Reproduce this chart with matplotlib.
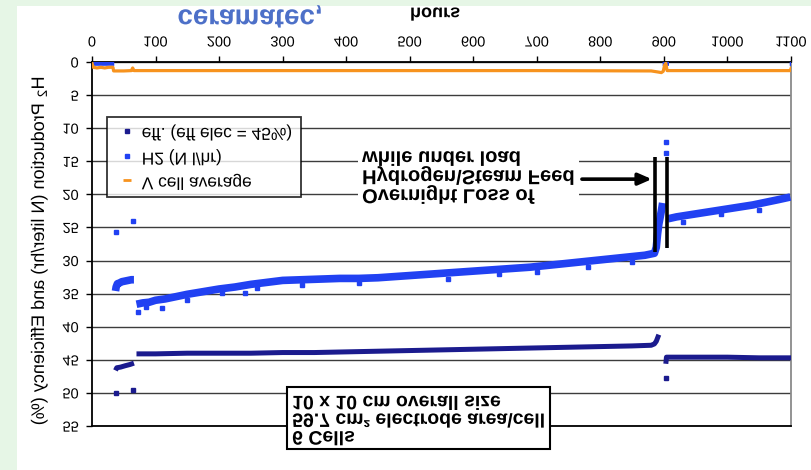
import numpy as np
import matplotlib
matplotlib.use("Agg")
import matplotlib.pyplot as plt
from matplotlib.patheffects import AbstractPathEffect
from matplotlib.transforms import Affine2D
from matplotlib.lines import Line2D
from matplotlib.patches import Rectangle

plt.rcParams['font.family'] = ['Liberation Sans', 'DejaVu Sans']

nan = np.nan

# ---------------- data ----------------
hour_ticks = list(range(0, 1101, 100))
value_ticks = list(range(0, 56, 5))

# H2 production (N l/hr) - main band, NaN separates runs
h2_hours = [0, 35, nan,
            37, 38, 40, 43, 47, 52, 57, 62, 66, nan,
            70, 80, 90, 100, 115, 130, 150, 175, 200, 225, 250, 275, 300,
            330, 360, 390, 420, 450, 480, 510, 540, 570, 600, 630, 660, 690,
            720, 750, 780, 810, 840, 870, 885, 888, 890, 892, 894, 896, 898, nan,
            898, 908, nan,
            906, 920, 940, 960, 980, 1000, 1020, 1040, 1060, 1080, 1099, nan,
            1098, 1100]
h2_values = [0, 0, nan,
             34.6, 34.0, 33.5, 33.4, 33.2, 33.1, 33.0, 32.9, 32.9, nan,
             36.6, 36.4, 36.3, 36.0, 35.8, 35.5, 35.1, 34.7, 34.3, 34.0, 33.6, 33.3, 33.0,
             32.9, 32.8, 32.7, 32.7, 32.6, 32.4, 32.2, 32.0, 31.8, 31.6, 31.4, 31.2, 31.0,
             30.7, 30.4, 30.1, 29.8, 29.5, 29.2, 28.9, 28.0, 26.0, 24.5, 23.5, 22.5, 21.3, nan,
             0, 0, nan,
             23.7, 23.4, 23.1, 22.8, 22.5, 22.2, 21.9, 21.6, 21.2, 20.8, 20.4, nan,
             0, 0]
h2_spot_hours = [37, 64, 903, 903, 72, 110, 205, 260, 560, 780,
                 85, 150, 240, 330, 420, 640, 700, 850, 930, 990, 1050]
h2_spot_values = [25.7, 24.0, 12.1, 13.8, 37.8, 37.2, 34.9, 34.2, 32.8, 30.9,
                  37.0, 36.0, 34.9, 33.7, 33.4, 32.1, 31.7, 30.2, 24.2, 23.0, 22.3]

# efficiency (%), eff elec = 45%
eff_hours = [37, 39, 45, 52, 60, 66, nan,
             70, 100, 150, 200, 250, 300, 350, 400, 450, 500, 550, 600, 650,
             700, 750, 800, 850, 880, 885, 888, 890, 892, nan,
             903, 904, 910, 950, 1000, 1050, 1100]
eff_values = [46.6, 46.2, 46.1, 45.9, 45.7, 45.5, nan,
              44.1, 44.1, 44.0, 44.0, 44.0, 43.9, 43.9, 43.8, 43.7, 43.6, 43.5, 43.4, 43.3,
              43.2, 43.1, 43.0, 42.9, 42.8, 42.6, 42.2, 41.7, 41.2, nan,
              45.6, 44.6, 44.6, 44.6, 44.6, 44.7, 44.7]
eff_spot_hours = [38, 64, 903]
eff_spot_values = [50.0, 49.6, 47.8]

# V cell average
vcell_hours = [0, 2, 8, 14, 20, 26, 33, 34, 50, 62, 64, 66, 100, 300, 500, 700,
               880, 890, 896, 899, 901, 903, 905, 1000, 1099, 1100]
vcell_values = [0.2, 0.8, 0.9, 0.8, 0.9, 0.8, 0.8, 1.35, 1.35, 1.3, 0.9, 1.3, 1.3, 1.3, 1.3, 1.3,
                1.35, 1.5, 1.6, 1.4, 0.5, 0.2, 1.3, 1.3, 1.3, 1.0]

# event markers (loss of hydrogen/steam feed)
event_hours = [886, 905]
event_top = [14.4, 14.4]
event_bottom = [28.7, 28.1]

series_labels = ["eff. (eff elec = 45%)", "H2 (N l/hr)", "V cell average"]

EFF_C = '#1b1b8e'
H2_C = '#2141f2'
V_C = '#f7931e'


class FlipY(AbstractPathEffect):
    """Render text mirrored vertically (the reference image is flipped)."""
    def __init__(self, artist=None):
        super().__init__()
        self.artist = artist

    def draw_path(self, renderer, gc, tpath, affine, rgbFace=None):
        if self.artist is not None:
            pos = self.artist.get_unitless_position()
            cy = self.artist.get_transform().transform(pos)[1]
        else:
            ext = tpath.get_extents(affine)
            cy = 0.5 * (ext.y0 + ext.y1)
        flip = Affine2D().translate(0, -cy).scale(1, -1).translate(0, cy)
        renderer.draw_path(gc, tpath, affine + flip, rgbFace)


W, H = 811, 470
fig = plt.figure(figsize=(W / 100, H / 100), dpi=100, facecolor='#e6f6e6')
fig.patches.append(Rectangle((17 / W, 0), 1, (H - 6) / H, transform=fig.transFigure,
                             facecolor='white', edgecolor='none', zorder=-5))

ax = fig.add_axes([92 / W, 1 - 426 / H, 699 / W, 364 / H])
ax.set_facecolor('white')

ax.plot(h2_hours, h2_values, color=H2_C, lw=5.5, solid_capstyle='butt', zorder=3)
ax.plot(h2_spot_hours, h2_spot_values, ls='none', marker='s', ms=2.5, color=H2_C, zorder=3)
ax.plot(eff_hours, eff_values, color=EFF_C, lw=3.6, solid_capstyle='butt', zorder=3)
ax.plot(eff_spot_hours, eff_spot_values, ls='none', marker='s', ms=2.3, color=EFF_C, zorder=3)
ax.plot(vcell_hours, vcell_values, color=V_C, lw=2.3, zorder=3)

ax.vlines(event_hours, event_top, event_bottom, color='black', lw=2.6, zorder=4)
ax.annotate('', xy=(881, 17.7), xytext=(771, 17.7),
            arrowprops=dict(arrowstyle='-|>,head_length=0.8,head_width=0.35',
                            lw=2.6, color='black', shrinkA=0, shrinkB=0), zorder=4)

ax.set_xlim(0, 1100)
ax.set_ylim(55, 0)
ax.set_xticks(hour_ticks)
ax.set_xticklabels([str(v) for v in hour_ticks])
ax.set_yticks(value_ticks)
ax.set_yticklabels([str(v) for v in value_ticks])
ax.grid(axis='y', color='#3c3c3c', lw=1.0)
ax.set_axisbelow(True)

ax.tick_params(axis='x', top=True, bottom=False, labeltop=True, labelbottom=False,
               direction='out', length=4, width=1, pad=5, labelsize=10.5)
ax.tick_params(axis='y', direction='out', length=4, width=1, pad=5.5, labelsize=10.5)
for s in ['top', 'bottom', 'left']:
    ax.spines[s].set_color('black')
    ax.spines[s].set_linewidth(1.3)
ax.spines['right'].set_color('#8a8a8a')
ax.spines['right'].set_linewidth(1.3)

ax.set_xlabel('hours', fontsize=13, fontweight='bold')
ax.xaxis.set_label_position('top')
ax.xaxis.label.set_va('center')
ax.xaxis.set_label_coords((435 - 92) / 699, 1 + (62 - 16) / 364)

ax.set_ylabel('H$_2$ Production (N liter/hr) and Efficiency (%)', fontsize=13)
ax.yaxis.set_label_coords((50 - 92) / 699, 0.48)

handles = [Line2D([], [], ls='none', marker='s', ms=3, color=EFF_C),
           Line2D([], [], ls='none', marker='s', ms=3.5, color=H2_C),
           Line2D([], [], ls='none', marker='_', ms=6, mew=2, color=V_C)]
leg = ax.legend(handles, series_labels, loc='upper left',
                bbox_to_anchor=((107 - 92) / 699, 1 - (117 - 62) / 364),
                borderaxespad=0, fontsize=12.5, frameon=True, fancybox=False,
                handlelength=1.4, handletextpad=0.15, labelspacing=0.55, borderpad=0.45)
leg.get_frame().set_edgecolor('black')
leg.get_frame().set_linewidth(1.3)
leg.set_zorder(6)

ann = ax.text(425, 17.2, 'Overnight Loss of\nHydrogen\\Steam Feed\nwhile under load',
              ha='left', va='center', fontsize=14.5, fontweight='bold', linespacing=1.0,
              bbox=dict(boxstyle='square,pad=0.2', fc='white', ec='none'), zorder=5)

cells = ax.text(315, 53.8, '6 Cells\n59.7 cm\u00b2 electrode area\\cell\n10 x 10 cm overall size',
                ha='left', va='center', fontsize=14, fontweight='bold', linespacing=1.05,
                bbox=dict(boxstyle='square,pad=0.25', fc='white', ec='black', lw=1.5),
                zorder=6, clip_on=False)

logo = fig.text(250 / W, 1 - 16.5 / H, 'ceramatec,', ha='center', va='center',
                fontsize=20, fontweight='bold', color='#4d70c8')

# mirror every text vertically like the reference
for t in ax.get_xticklabels() + ax.get_yticklabels() + leg.get_texts():
    t.set_path_effects([FlipY()])
ax.xaxis.label.set_path_effects([FlipY()])
ax.yaxis.label.set_path_effects([FlipY()])
ann.set_path_effects([FlipY(ann)])
cells.set_path_effects([FlipY(cells)])
logo.set_path_effects([FlipY(logo)])

fig.savefig('out.png', dpi=100, facecolor=fig.get_facecolor())
